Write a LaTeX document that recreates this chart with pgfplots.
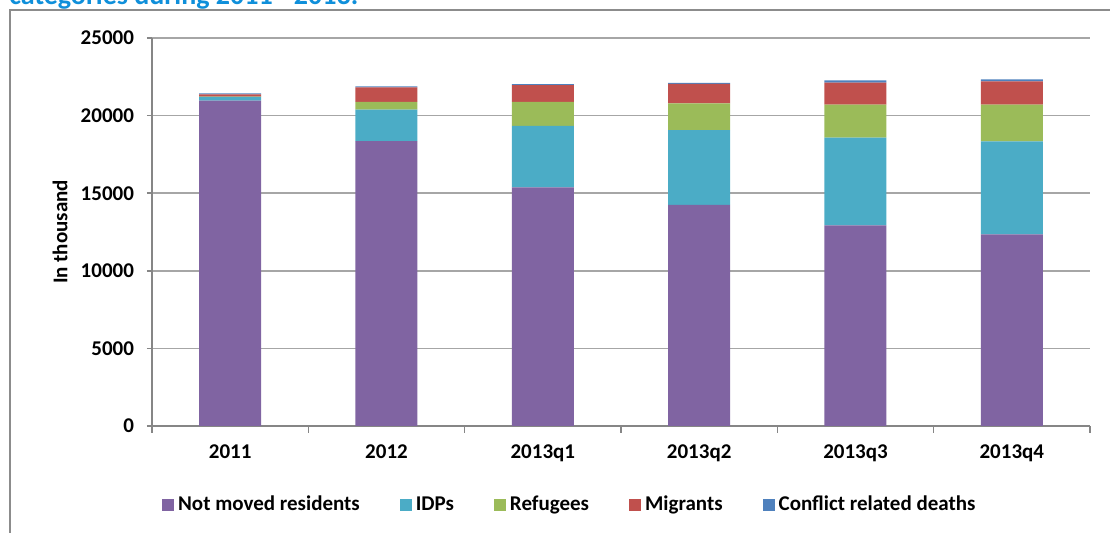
\documentclass[border=0pt]{standalone}
\usepackage{fontspec}
\setmainfont{Carlito}
\usepackage{pgfplots}
\pgfplotsset{compat=1.18}
\definecolor{cPurple}{HTML}{8064A2}
\definecolor{cCyan}{HTML}{4BACC6}
\definecolor{cGreen}{HTML}{9BBB59}
\definecolor{cRed}{HTML}{C0504D}
\definecolor{cBlue}{HTML}{4F81BD}
\definecolor{titleblue}{HTML}{0F8FDA}
\definecolor{framegray}{HTML}{8C8C8C}
\definecolor{axisgray}{HTML}{868686}
\definecolor{gridgray}{HTML}{A6A6A6}
\pgfplotsset{mylegend/.style={legend image code/.code={\fill[##1] (0pt,-3pt) rectangle (6pt,3pt);}}}
\newcommand{\cf}{\fontsize{10.5}{12}\selectfont\bfseries}
\begin{document}
\begin{tikzpicture}[x=1pt,y=1pt]
\path[use as bounding box, clip] (0,0) rectangle (555,266.5);
\node[anchor=base west, inner sep=0pt, font=\fontsize{14}{16}\selectfont\bfseries, text=titleblue] at (4.5,264) {categories during 2011 - 2013.};
\draw[framegray, line width=1pt] (5,-10) -- (5,261.5) -- (600,261.5);
\begin{axis}[
  at={(76pt,53.5pt)}, anchor=south west,
  scale only axis, width=469pt, height=194pt,
  ybar stacked, bar width=31pt,
  xmin=-0.5, xmax=5.5, ymin=0, ymax=25000,
  xtick={0,...,5},
  xticklabels={2011,2012,2013q1,2013q2,2013q3,2013q4},
  minor xtick={-0.5,0.5,1.5,2.5,3.5,4.5,5.5},
  ytick={0,5000,10000,15000,20000,25000},
  scaled y ticks=false,
  /pgf/number format/1000 sep={},
  /pgf/number format/assume math mode=true,
  axis lines*=left,
  axis line style={draw=axisgray, line width=0.75pt},
  ymajorgrids, grid style={draw=gridgray, line width=0.75pt},
  tick align=outside,
  major tick length=2.5pt, minor tick length=3.5pt,
  major x tick style={draw=none},
  minor x tick style={draw=axisgray, line width=0.75pt},
  y tick style={draw=axisgray, line width=0.75pt},
  tick label style={font=\cf, text=black},
  xticklabel style={yshift=-3.5pt},
  yticklabel style={xshift=-3pt},
  ylabel={In thousand},
  ylabel style={font=\cf, at={(axis description cs:-0.098,0.5)}, anchor=center},
  legend style={at={(axis description cs:0.4465,-0.203)}, anchor=center, draw=none, fill=none,
    legend columns=-1, font=\cf,
    /tikz/every even column/.append style={column sep=18pt}},
]
\addplot[fill=cPurple, draw=none, mylegend] coordinates {(0,20960) (1,18350) (2,15380) (3,14240) (4,12930) (5,12350)};
\addplot[fill=cCyan, draw=none, mylegend] coordinates {(0,250) (1,2030) (2,3950) (3,4830) (4,5650) (5,5990)};
\addplot[fill=cGreen, draw=none, mylegend] coordinates {(0,15) (1,500) (2,1550) (3,1720) (4,2130) (5,2360)};
\addplot[fill=cRed, draw=none, mylegend] coordinates {(0,140) (1,940) (2,1090) (3,1250) (4,1410) (5,1510)};
\addplot[fill=cBlue, draw=none, mylegend] coordinates {(0,60) (1,70) (2,65) (3,65) (4,150) (5,130)};
\legend{Not moved residents, IDPs, Refugees, Migrants, Conflict related deaths}
\end{axis}
\end{tikzpicture}
\end{document}
